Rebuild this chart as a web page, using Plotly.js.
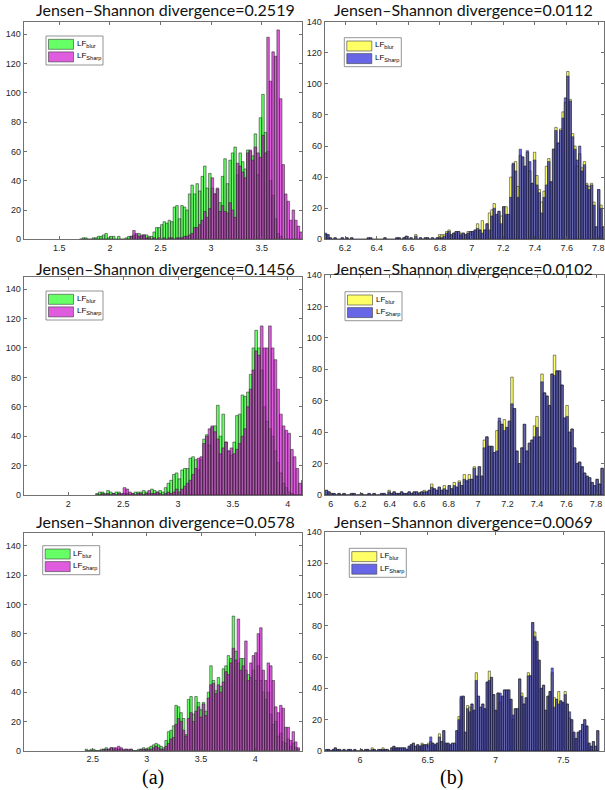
<!DOCTYPE html>
<html><head><meta charset="utf-8">
<script src="https://cdn.plot.ly/plotly-3.0.1.min.js"></script>
<style>html,body{margin:0;padding:0;background:#fff}#chart{width:605px;height:790px}</style>
</head><body><div id="chart"></div><script>
// ---------- DATA (histogram counts per bin; bins given by start + width) ----------
const seriesNames = ['LF<sub>blur</sub>', 'LF<sub>Sharp</sub>'];
const titles = ['Jensen–Shannon divergence=0.2519','Jensen–Shannon divergence=0.0112',
                'Jensen–Shannon divergence=0.1456','Jensen–Shannon divergence=0.0102',
                'Jensen–Shannon divergence=0.0578','Jensen–Shannon divergence=0.0069'];
const panelLabels = ['(a)', '(b)'];

const a1_start = 1.70, a1_width = 0.025;
const a1_blur = [0,1,1,0,0,1,1,2,2,3, 4,1,2,2,0,2,0,0,1,2, 2,3,3,4,2,3,3,2,2,5,
  8,8,10,12,11,13,12,22,23,14, 23,22,20,31,37,31,38,33,43,50, 35,45,35,31,34,25,43,55,38,54,
  59,63,44,59,53,48,61,60,57,72, 44,83,99,73,60,40,30,14,4,2, 0,0,0,0,0,0,0,0];
const a1_sharp = [0,0,0,0,0,0,0,0,0,0, 0,0,0,0,0,0,0,0,0,0, 2,6,4,2,3,3,1,1,0,1,
  0,1,0,1,0,1,1,0,1,1, 1,2,2,3,4,8,8,10,13,19, 15,21,42,31,35,19,23,19,18,25,
  20,15,52,50,46,42,59,61,54,63, 59,56,71,59,138,108,128,125,143,96, 51,31,26,13,20,13,9,5];

const b1_start = 6.07, b1_width = 0.015;
const b1_blur = [3,3,1,0,1,0,0,1,0,1, 0,1,0,0,0,0,0,0,1,1, 0,0,0,0,0,1,0,0,0,0,
  1,1,0,1,2,0,1,0,3,0, 1,0,1,1,0,1,0,1,3,3, 3,5,6,3,4,5,5,4,4,3, 5,5,
  5,6,10,6,12,6,10,17,19,23, 16,18,15,21,21,16,40,48,50,34, 54,53,47,56,44,36,56,41,32,24,
  31,47,52,37,58,72,62,71,82,88, 108,90,68,60,47,55,46,50,36,34, 36,24,8,32,22,8];
const b1_sharp = [4,3,1,0,1,0,0,1,0,1, 0,1,0,0,0,0,0,0,1,1, 0,0,0,0,0,1,0,0,0,0,
  1,1,0,1,2,0,1,0,2,0, 1,0,1,1,0,1,0,1,1,1, 2,4,5,3,4,5,5,3,4,3, 4,5,
  5,6,7,6,4,6,10,6,15,20, 16,18,10,21,16,16,27,49,44,27, 58,53,47,57,50,36,51,35,30,17,
  27,35,50,37,58,70,62,70,78,91, 105,89,66,58,51,60,44,48,35,32, 35,22,8,32,20,8];

const a2_start = 2.25, a2_width = 0.025;
const a2_blur = [1,2,2,1,3,2,1,2,2,0, 1,1,0,1,2,2,2,3,2,1, 4,3,2,3,2,5,8,10,14,15,
  11,17,18,18,25,26,24,17,24,38, 41,34,46,47,61,40,55,36,30,27, 36,54,55,68,67,70,82,100,112,100,
  85,60,50,45,40,30,22,15,8,5, 2,1,0,0,0,0];
const a2_sharp = [0,0,1,0,1,0,1,0,1,1, 5,4,2,1,0,1,1,0,1,3, 1,1,2,1,0,1,2,1,2,4,
  2,4,6,8,10,14,18,25,26,35, 40,45,47,43,38,28,32,36,30,32, 28,31,35,40,45,60,72,85,98,95,
  115,100,100,115,100,92,72,55,47,44, 42,31,26,18,8,10];

const b2_start = 5.963, b2_width = 0.017;
const b2_blur = [3,2,1,1,0,1,0,1,0,0, 1,1,0,0,1,0,0,1,0,1, 0,0,1,1,0,3,1,2,1,1,
  2,1,1,2,1,2,2,1,2,3, 2,3,7,4,3,5,3,6,3,6, 4,8,5,9,6,13,9,13,10,18, 12,18,12,
  35,37,31,31,27,41,47,45,48,43, 47,75,55,28,20,30,45,28,33,35, 44,50,37,77,65,63,57,77,89,79,
  79,70,49,57,40,42,30,20,21,18, 14,12,11,8,6,10,7,17];
const b2_sharp = [3,2,1,1,0,1,0,1,0,0, 1,1,0,0,1,0,0,1,0,1, 0,0,1,1,0,2,1,2,1,1,
  2,1,1,2,1,2,2,1,2,2, 2,3,5,4,3,5,3,4,3,6, 4,6,5,8,6,10,9,10,10,17, 12,18,12,
  30,37,31,31,27,28,49,45,41,43, 47,58,55,28,20,30,45,28,33,35, 37,43,37,72,65,63,57,77,76,79,
  79,70,49,50,40,42,30,20,21,18, 14,12,11,8,6,10,7,17];

const a3_start = 2.43, a3_width = 0.023;
const a3_blur = [1,0,1,1,0,0,1,1,2,1, 2,1,1,1,1,0,1,0,1,0, 0,1,1,2,1,2,3,4,5,4,
  3,2,7,13,14,17,31,30,26,22, 11,35,37,25,37,33,28,33,27,40, 58,48,41,50,44,56,58,65,63,
  92,68,60,63,63,55,52,50,55,48, 58,48,40,35,40,25,18,20,10,12, 6,5,8,3,5,2,1];
const a3_sharp = [0,0,0,0,0,0,0,1,1,1, 2,2,2,3,2,1,1,1,1,0, 0,0,1,1,1,1,1,2,3,2,
  1,1,3,5,8,9,18,22,20,14, 10,22,26,20,27,30,23,32,24,36, 45,46,39,45,40,47,54,52,60,
  70,62,90,55,58,75,48,60,65,67, 80,84,55,48,60,58,48,30,26,31, 29,16,16,7,13,6,2];

const b3_start = 5.746, b3_width = 0.016;
const b3_blur = [1,1,0,1,2,1,1,0,1,0, 1,1,0,1,0,0,1,0,1,1, 0,2,1,0,1,1,2,1,1,0,
  2,3,2,2,2,2,2,1,3,4, 5,3,4,3,5,4,4,5,6,5, 4,5,11,6,
  13,5,5,4,5,5,13,22,34,35, 12,29,28,30,26,50,35,28,30,27, 44,51,47,36,26,37,31,35,39,39,
  39,33,20,27,27,46,37,30,34,50, 48,82,76,70,58,40,42,26,35,38, 50,34,33,38,32,31,38,30,21,20,
  12,8,12,13,17,20,16,5,3,6, 3,13];
const b3_sharp = [1,1,0,1,2,1,1,0,1,0, 1,1,0,1,0,0,1,0,1,1, 0,1,1,0,1,1,1,1,1,0,
  2,3,2,2,2,2,2,1,3,4, 5,3,4,3,4,4,4,4,9,5, 4,5,9,6,
  13,5,5,4,5,5,13,20,35,35, 12,27,25,30,26,45,35,28,30,27, 44,45,47,36,26,37,37,35,39,39,
  39,33,23,27,27,46,35,30,34,48, 48,82,73,70,58,40,42,26,35,38, 53,28,33,30,32,31,36,30,25,20,
  12,8,12,13,17,20,16,5,3,6, 3,13];

const a1_ticks = [1.5, 2, 2.5, 3, 3.5];
const b1_ticks = [6.2, 6.4, 6.6, 6.8, 7, 7.2, 7.4, 7.6, 7.8];
const a2_ticks = [2, 2.5, 3, 3.5, 4];
const b2_ticks = [6, 6.2, 6.4, 6.6, 6.8, 7, 7.2, 7.4, 7.6, 7.8];
const a3_ticks = [2.5, 3, 3.5, 4];
const b3_ticks = [6, 6.5, 7, 7.5];
const y_ticks = [0, 20, 40, 60, 80, 100, 120, 140];

// ---------- LAYOUT / STYLE ----------
const W = 605, H = 790;
const fx = p => p / W, fy = p => 1 - p / H;
const greenMag = ['rgba(0,255,0,0.6)', 'rgba(205,0,205,0.64)'];
const yelBlue = ['rgba(255,255,0,0.6)', 'rgba(0,0,215,0.6)'];

const panels = [
  {s:a1_start, w:a1_width, b:a1_blur, h:a1_sharp, c:greenMag, xd:[23.5,302], yd:[21.7,239.3], xr:[1.146,3.898], yr:[0,148.6], tv:a1_ticks, lg:[46,36], tc:[165,10]},
  {s:b1_start, w:b1_width, b:b1_blur, h:b1_sharp, c:yelBlue, xd:[324.5,604], yd:[21.7,239.3], xr:[6.0705,7.836], yr:[0,140], tv:b1_ticks, lg:[344.3,37.7], tc:[463.5,10]},
  {s:a2_start, w:a2_width, b:a2_blur, h:a2_sharp, c:greenMag, xd:[23.5,302], yd:[276.5,495], xr:[1.592,4.13], yr:[0,148.6], tv:a2_ticks, lg:[46,291], tc:[165,268.5]},
  {s:b2_start, w:b2_width, b:b2_blur, h:b2_sharp, c:yelBlue, xd:[324.5,604], yd:[275,495], xr:[5.958,7.854], yr:[0,140], tv:b2_ticks, lg:[345,291.7], tc:[463.5,268]},
  {s:a3_start, w:a3_width, b:a3_blur, h:a3_sharp, c:greenMag, xd:[23.5,302], yd:[533.3,750.7], xr:[1.862,4.431], yr:[0,148.6], tv:a3_ticks, lg:[42.7,545.7], tc:[165,521]},
  {s:b3_start, w:b3_width, b:b3_blur, h:b3_sharp, c:yelBlue, xd:[324.5,604], yd:[531.7,751], xr:[5.738,7.80], yr:[0,140], tv:b3_ticks, lg:[349.3,548.3], tc:[463.5,521]}
];

const traces = [];
const layout = {
  width: W, height: H, margin: {l:0, r:0, t:0, b:0},
  paper_bgcolor: '#fff', plot_bgcolor: '#fff',
  barmode: 'overlay', showlegend: false,
  shapes: [], annotations: []
};
const axColor = '#4d4d4d';
const tickFont = {family: 'Liberation Sans, Arial, sans-serif', size: 9, color: '#262626'};

panels.forEach((p, i) => {
  const n = i + 1;
  const xa = n === 1 ? 'x' : 'x' + n, ya = n === 1 ? 'y' : 'y' + n;
  const centers = p.b.map((_, k) => p.s + (k + 0.5) * p.w);
  [p.b, p.h].forEach((vals, j) => {
    traces.push({
      type: 'bar', x: centers, y: vals, width: p.w, xaxis: xa, yaxis: ya,
      marker: {color: p.c[j], line: {color: 'rgb(38,38,38)', width: 0.55}},
      hoverinfo: 'skip'
    });
  });
  const common = {showline: true, mirror: 'ticks', linecolor: axColor, linewidth: 0.8,
    ticks: 'inside', ticklen: 3, tickwidth: 0.8, tickcolor: axColor,
    showgrid: false, zeroline: false, tickfont: tickFont, fixedrange: true};
  layout[n === 1 ? 'xaxis' : 'xaxis' + n] = Object.assign({}, common, {
    domain: [fx(p.xd[0]), fx(p.xd[1])], range: p.xr, anchor: ya,
    tickmode: 'array', tickvals: p.tv, ticktext: p.tv.map(String)});
  layout[n === 1 ? 'yaxis' : 'yaxis' + n] = Object.assign({}, common, {
    domain: [fy(p.yd[1]), fy(p.yd[0])], range: p.yr, anchor: xa,
    tickmode: 'array', tickvals: y_ticks, ticktext: y_ticks.map(String)});
  layout.annotations.push({xref:'paper', yref:'paper', x: fx(p.tc[0]), y: fy(p.tc[1]),
    xanchor:'center', yanchor:'middle', showarrow:false, text: titles[i],
    font:{family:'Lato, Open Sans, sans-serif', size:16, color:'#111'}});
  const L = p.lg[0], T = p.lg[1];
  layout.shapes.push({type:'rect', xref:'paper', yref:'paper', x0:fx(L), x1:fx(L+57), y0:fy(T+29), y1:fy(T),
    line:{color:'#7a7a7a', width:0.8}, fillcolor:'#fff'});
  [0,1].forEach(j => {
    const top = T + 3.3 + j * 12.6;
    layout.shapes.push({type:'rect', xref:'paper', yref:'paper', x0:fx(L+2.5), x1:fx(L+27.5),
      y0:fy(top+10), y1:fy(top), line:{color:'rgb(60,60,60)', width:0.6}, fillcolor:p.c[j]});
    layout.annotations.push({xref:'paper', yref:'paper', x: fx(L+28.5), y: fy(top+4.5),
      xanchor:'left', yanchor:'middle', showarrow:false, text: seriesNames[j],
      font:{family:'Liberation Sans, Arial, sans-serif', size:8, color:'#000'}});
  });
});

[[153, 777], [451, 777]].forEach((pos, i) => {
  layout.annotations.push({xref:'paper', yref:'paper', x: fx(pos[0]), y: fy(pos[1]),
    xanchor:'center', yanchor:'middle', showarrow:false, text: panelLabels[i],
    font:{family:'Liberation Serif, Times New Roman, serif', size:20, color:'#000'}});
});

Plotly.newPlot('chart', traces, layout, {staticPlot: true, displayModeBar: false});
</script></body></html>
